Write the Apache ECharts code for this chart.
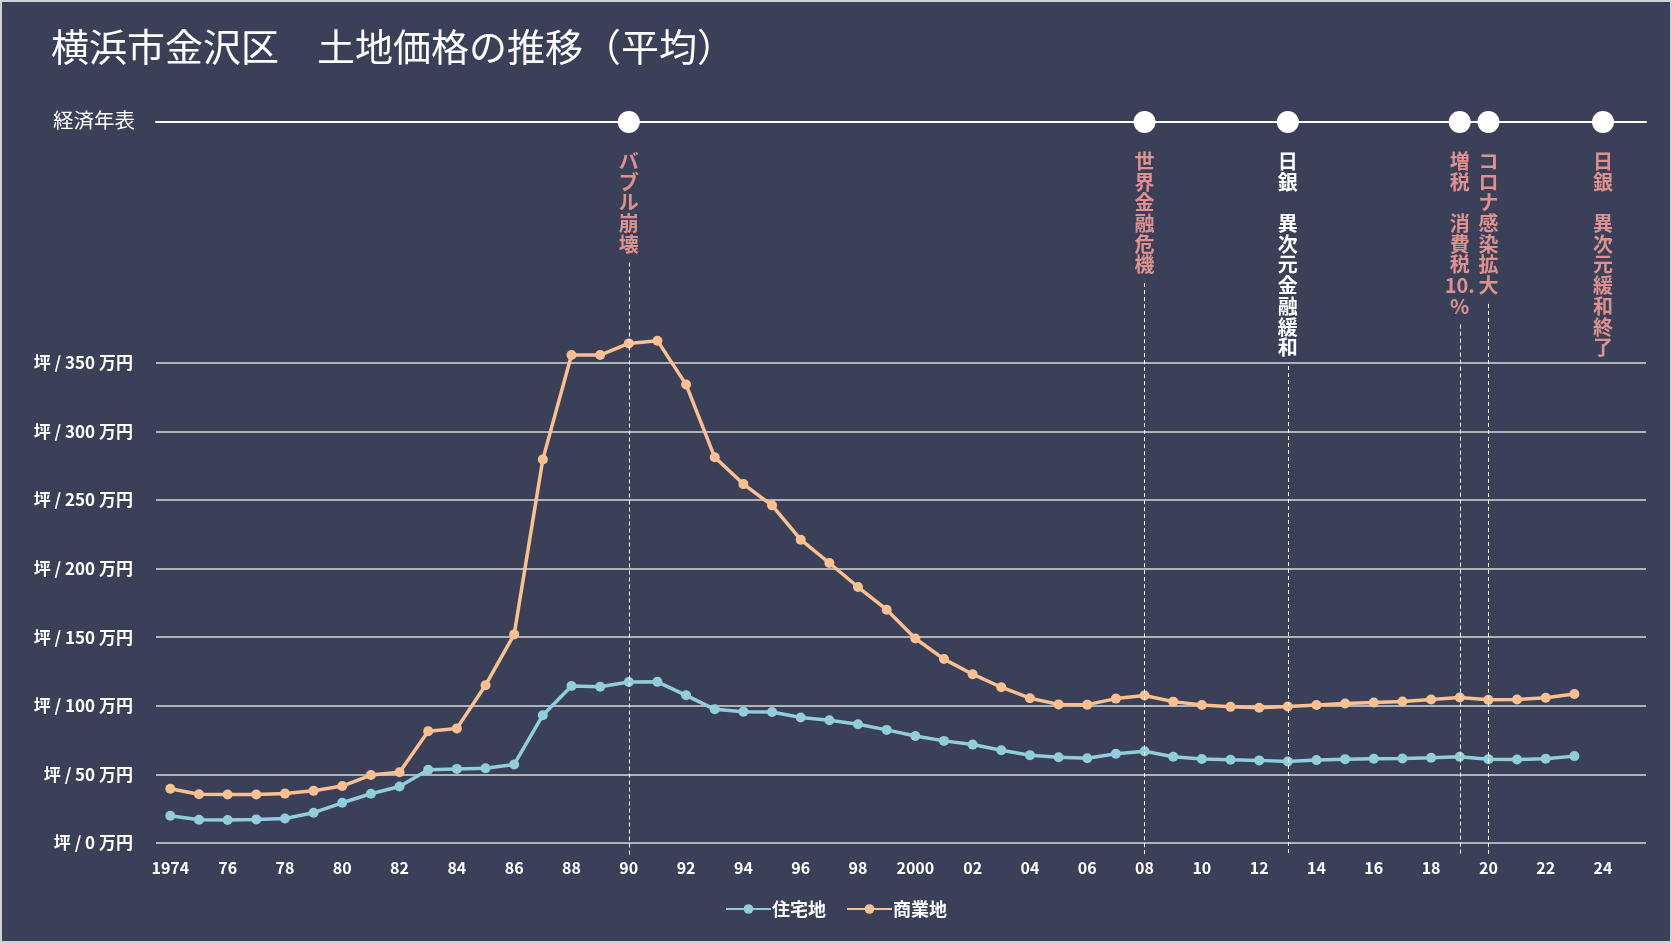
<!DOCTYPE html>
<html>
<head>
<meta charset="utf-8">
<script src="https://cdn.jsdelivr.net/npm/echarts@6/dist/echarts.min.js"></script>
<style>
  html, body { margin: 0; padding: 0; background: #394058; }
  #chart { width: 1672px; height: 943px; }
  #frame { position: absolute; left: 0; top: 0; width: 1672px; height: 943px;
           box-sizing: border-box; border: 2px solid #cfd1d6; pointer-events: none; }
</style>
</head>
<body>
<div id="chart"></div>
<div id="frame"></div>
<script>
// 年（横軸カテゴリ）
var years = [1974, 1975, 1976, 1977, 1978, 1979, 1980, 1981, 1982, 1983,
  1984, 1985, 1986, 1987, 1988, 1989, 1990, 1991, 1992, 1993,
  1994, 1995, 1996, 1997, 1998, 1999, 2000, 2001, 2002, 2003,
  2004, 2005, 2006, 2007, 2008, 2009, 2010, 2011, 2012, 2013,
  2014, 2015, 2016, 2017, 2018, 2019, 2020, 2021, 2022, 2023,
  2024, 2025];

// 住宅地（万円/坪）
var residential = [19.9, 17.0, 16.7, 17.2, 17.9, 22.1, 29.3, 35.9, 41.2, 53.3,
  54.0, 54.5, 57.2, 93.1, 114.4, 113.9, 117.3, 117.4, 107.6, 97.4,
  95.7, 95.5, 91.4, 89.4, 86.5, 82.4, 78.0, 74.4, 71.7, 67.6,
  64.0, 62.5, 61.8, 65.0, 66.8, 62.9, 61.2, 60.6, 60.2, 59.4,
  60.4, 61.1, 61.4, 61.6, 62.1, 62.8, 61.1, 60.9, 61.4, 63.3];

// 商業地（万円/坪）
var commercial = [39.5, 35.5, 35.3, 35.3, 36.0, 38.0, 41.5, 49.5, 51.5, 81.5,
  83.5, 115.0, 152.0, 279.5, 355.5, 355.5, 364.0, 366.0, 334.0, 281.0,
  261.5, 246.0, 221.0, 204.0, 186.5, 170.0, 149.0, 134.0, 123.0, 113.5,
  105.5, 101.0, 100.8, 105.2, 107.5, 103.0, 100.6, 99.2, 98.5, 99.5,
  100.5, 101.7, 102.4, 103.1, 104.6, 106.0, 104.3, 104.6, 105.8, 108.5];

// 縦軸目盛
var yTicks = [0, 50, 100, 150, 200, 250, 300, 350];

// 経済年表
var eventYears = [1990, 2008, 2013, 2019, 2020, 2024];
var eventNames = ['バブル崩壊', '世界金融危機', '日銀　異次元金融緩和', '増税　消費税10.%', 'コロナ感染拡大', '日銀　異次元緩和終了'];
var eventLine = [true, true, true, true, true, false];
var eventWhite = [false, false, true, false, false, false];

var PINK = '#df9190';
var FONT = "'Noto Sans CJK JP', 'Noto Sans', sans-serif";
var LINE_H = 20.7;

// 縦書き用に1文字ずつ改行（数字はまとめる）
function tate(s) {
  return s.match(/[0-9.]+|./g).join('\n');
}

var myChart = echarts.init(document.getElementById('chart'));

var eventData = [];
var dashLines = [];
for (var i = 0; i < eventYears.length; i++) {
  var idx = years.indexOf(eventYears[i]);
  var lines = eventNames[i].match(/[0-9.]+|./g).length;
  eventData.push({
    value: [idx, 0],
    label: { color: eventWhite[i] ? '#ffffff' : PINK }
  });
  if (eventLine[i]) {
    dashLines.push([
      { coord: [idx, 30 + lines * LINE_H + 7] },
      { coord: [idx, 733] }
    ]);
  }
}

myChart.setOption({
  backgroundColor: '#394058',
  animation: false,
  title: [{
    text: '横浜市金沢区　土地価格の推移（平均）',
    left: 51, top: 28, padding: 0,
    textStyle: { color: '#ffffff', fontSize: 38, fontWeight: 'normal', fontFamily: FONT }
  }, {
    text: '経済年表',
    left: 53, top: 110, padding: 0,
    textStyle: { color: '#ffffff', fontSize: 20.5, fontWeight: 'normal', fontFamily: FONT }
  }],
  legend: {
    data: ['住宅地', '商業地'],
    bottom: 20,
    left: 'center',
    itemWidth: 45,
    itemHeight: 12,
    itemGap: 20,
    textStyle: { color: '#ffffff', fontSize: 18, fontWeight: 'bold', fontFamily: FONT, padding: [0, 0, 0, -4] }
  },
  grid: [
    { left: 156, right: 26, top: 294, bottom: 100 },
    { left: 156, right: 26, top: 122, bottom: 88 }
  ],
  xAxis: [{
    type: 'category',
    gridIndex: 0,
    data: years,
    boundaryGap: true,
    axisLine: { show: false },
    axisTick: { show: false },
    axisLabel: {
      interval: 1,
      margin: 17,
      color: '#ffffff',
      fontSize: 16,
      fontWeight: 'bold',
      fontFamily: FONT,
      formatter: function (v) {
        v = String(v);
        return (v === '1974' || v === '2000') ? v : v.slice(2);
      }
    }
  }, {
    type: 'category',
    gridIndex: 1,
    data: years,
    boundaryGap: true,
    position: 'top',
    axisLine: { show: true, lineStyle: { color: '#ffffff', width: 2 } },
    axisTick: { show: false },
    axisLabel: { show: false }
  }],
  yAxis: [{
    type: 'value',
    gridIndex: 0,
    min: 0,
    max: 400,
    interval: 50,
    axisLine: { show: false },
    axisTick: { show: false },
    splitLine: { show: true, showMaxLine: false, lineStyle: { color: '#d9d9d9', width: 1.5 } },
    axisLabel: {
      showMaxLabel: false,
      margin: 23,
      color: '#ffffff',
      fontSize: 17,
      fontWeight: 'bold',
      fontFamily: FONT,
      formatter: function (v) {
        return yTicks.indexOf(v) >= 0 ? '坪 / ' + v + ' 万円' : '';
      }
    }
  }, {
    type: 'value',
    gridIndex: 1,
    min: 0,
    max: 733,
    inverse: true,
    show: false
  }],
  series: [{
    name: '住宅地',
    type: 'line',
    xAxisIndex: 0,
    yAxisIndex: 0,
    data: residential,
    symbol: 'circle',
    symbolSize: 10,
    lineStyle: { width: 3.5, color: '#92cddc' },
    itemStyle: { color: '#92cddc' }
  }, {
    name: '商業地',
    type: 'line',
    xAxisIndex: 0,
    yAxisIndex: 0,
    data: commercial,
    symbol: 'circle',
    symbolSize: 10,
    lineStyle: { width: 3.5, color: '#fac090' },
    itemStyle: { color: '#fac090' }
  }, {
    name: '経済年表',
    type: 'scatter',
    xAxisIndex: 1,
    yAxisIndex: 1,
    clip: false,
    symbolSize: 22,
    itemStyle: { color: '#ffffff', opacity: 1 },
    data: eventData,
    label: {
      show: true,
      position: 'bottom',
      distance: 18,
      fontSize: 20,
      lineHeight: LINE_H,
      fontWeight: 'bold',
      fontFamily: FONT,
      align: 'center',
      formatter: function (p) {
        return tate(eventNames[p.dataIndex]);
      }
    },
    markLine: {
      silent: true,
      symbol: ['none', 'none'],
      label: { show: false },
      lineStyle: { color: '#ffffff', type: [4, 3], width: 1, opacity: 1 },
      data: dashLines
    }
  }]
});
</script>
</body>
</html>
